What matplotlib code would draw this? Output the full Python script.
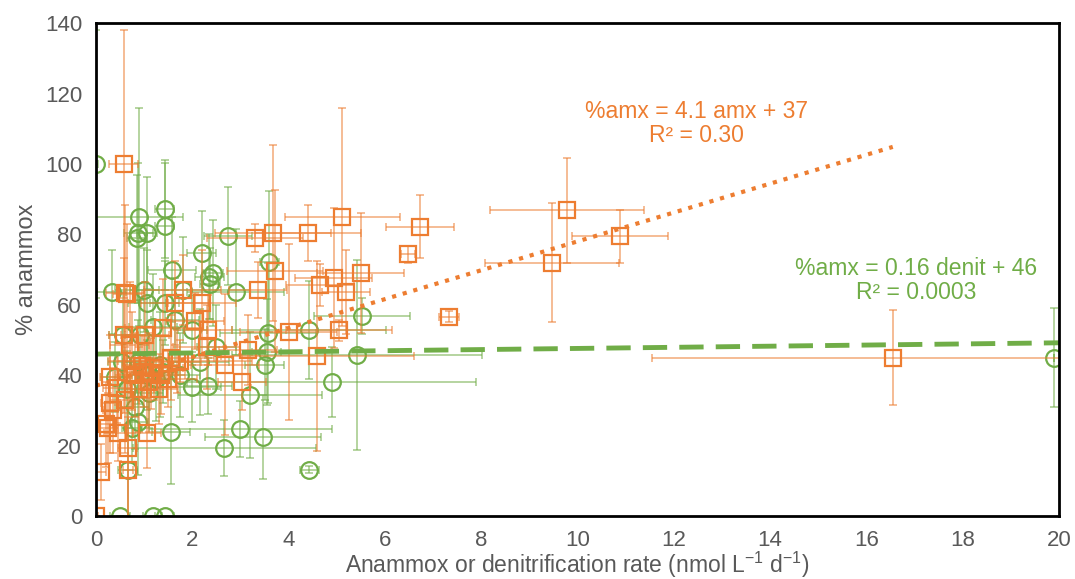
# Percent anammox vs. anammox / denitrification rate, with linear trends

import numpy as np
import matplotlib.pyplot as plt

plt.rcParams['font.family'] = ['Liberation Sans', 'DejaVu Sans']

#---------------------------------------------------------------------
# Anammox rate series (squares)
amx_x = [0.58, 0.0, 0.10, 0.66, 0.60, 0.65, 6.73, 6.48, 7.33, 9.47,
         9.78, 10.88, 16.55, 5.12, 4.40, 3.68, 3.30, 3.72, 4.94, 5.50,
         4.65, 5.20, 3.36, 4.00, 5.05, 4.60, 3.16, 2.30, 2.68, 3.03,
         2.06, 2.32, 1.40, 1.64, 2.20, 1.80, 0.58, 1.02, 0.70, 1.68,
         0.29, 0.44, 0.25, 0.35, 0.46, 0.66, 1.06, 0.80, 1.00, 1.10,
         1.20, 1.35, 1.50, 0.90, 0.60, 1.30, 0.75, 1.55, 0.30, 0.20,
         1.75, 0.95, 1.15]
amx_y = [100.0, 0.0, 12.5, 13.0, 63.4, 63.0, 82.2, 74.3, 56.6, 72.0,
         86.8, 79.5, 45.0, 85.0, 80.4, 80.4, 79.0, 69.6, 67.6, 69.0,
         65.6, 63.6, 64.2, 52.3, 52.8, 45.5, 47.2, 48.0, 43.0, 38.0,
         55.4, 52.8, 53.4, 60.5, 60.5, 64.2, 51.4, 51.4, 48.6, 43.8,
         39.5, 36.4, 25.0, 30.0, 23.6, 19.3, 23.6, 40.0, 41.0, 38.0,
         42.0, 40.0, 39.0, 36.0, 33.0, 36.0, 44.0, 45.0, 32.0, 26.0,
         44.0, 42.5, 40.5]
amx_xerr = [0.30, 0.05, 0.10, 0.10, 0.40, 0.30, 0.70, 0.15, 0.20, 1.40,
            1.60, 1.00, 5.00, 1.20, 1.10, 1.20, 1.00, 1.00, 0.80, 0.90,
            0.70, 0.50, 0.60, 1.00, 1.10, 2.00, 0.60, 0.70, 0.70, 0.50,
            0.60, 0.50, 0.80, 0.70, 0.70, 0.80, 0.30, 0.50, 0.40, 0.50,
            0.20, 0.30, 0.20, 0.20, 0.30, 0.20, 0.30, 0.40, 0.50, 0.40,
            0.60, 0.50, 0.60, 0.30, 0.30, 0.40, 0.30, 0.90, 0.20, 0.15,
            1.50, 0.40, 0.50]
amx_yerr = [38.0, 0.0, 8.0, 15.0, 25.0, 20.0, 9.0, 2.5, 1.5, 17.0,
            15.0, 7.5, 13.5, 31.0, 8.0, 25.0, 4.0, 23.0, 20.0, 17.0,
            6.0, 12.0, 8.0, 25.0, 3.0, 27.0, 10.0, 12.0, 20.0, 8.0,
            8.0, 10.0, 14.0, 12.0, 15.0, 10.0, 22.0, 15.0, 18.0, 9.0,
            12.0, 10.0, 10.0, 12.0, 8.0, 20.0, 10.0, 12.0, 10.0, 14.0,
            9.0, 11.0, 8.0, 12.0, 15.0, 10.0, 14.0, 12.0, 14.0, 12.0,
            6.0, 9.0, 10.0]

# Denitrification rate series (circles)
den_x = [0.0, 0.90, 1.43, 1.43, 0.88, 1.06, 0.85, 2.74, 2.20, 3.60,
         1.58, 2.43, 2.35, 2.37, 0.33, 1.00, 1.06, 1.43, 1.80, 2.90,
         5.52, 4.43, 3.57, 1.18, 1.64, 2.00, 0.56, 0.91, 2.50, 5.42,
         3.55, 3.50, 4.90, 3.20, 0.54, 0.87, 1.33, 2.16, 1.75, 2.00,
         2.33, 0.40, 0.80, 0.87, 0.75, 1.56, 3.00, 2.66, 3.47, 4.43,
         0.66, 0.50, 1.18, 1.43, 19.90, 1.05, 1.25, 1.40, 0.65, 1.10]
den_y = [100.0, 85.0, 87.2, 82.3, 80.4, 80.4, 79.0, 79.5, 74.7, 72.2,
         70.0, 69.0, 68.0, 66.0, 63.6, 64.2, 60.5, 60.5, 64.2, 63.6,
         56.8, 52.8, 52.0, 53.7, 55.7, 52.8, 51.4, 51.4, 48.0, 45.7,
         46.6, 43.0, 38.0, 34.4, 43.8, 43.8, 43.0, 43.8, 40.0, 36.6,
         37.0, 39.5, 31.0, 26.7, 25.0, 24.0, 24.7, 19.3, 22.5, 13.2,
         13.0, 0.0, 0.0, 0.0, 45.0, 40.0, 39.0, 41.0, 36.0, 35.0]
den_xerr = [0.05, 0.90, 0.20, 0.20, 0.30, 0.20, 0.20, 0.50, 0.30, 0.20,
            0.50, 0.20, 0.30, 0.20, 0.30, 0.30, 0.40, 0.30, 1.40, 1.00,
            1.00, 1.60, 1.00, 0.50, 0.50, 0.30, 0.30, 0.30, 0.40, 2.60,
            0.30, 0.40, 3.00, 1.50, 0.30, 0.30, 0.40, 0.60, 0.40, 0.60,
            0.50, 0.30, 0.30, 0.20, 0.20, 0.40, 1.90, 1.90, 1.20, 0.20,
            0.20, 0.20, 0.20, 0.20, 0.00, 0.30, 0.40, 0.30, 0.20, 0.30]
den_yerr = [38.0, 31.0, 14.0, 18.0, 20.0, 16.0, 18.0, 14.0, 12.0, 20.0,
            15.0, 15.0, 12.0, 10.0, 12.0, 12.0, 15.0, 12.0, 15.0, 18.0,
            5.0, 14.0, 20.0, 15.0, 12.0, 10.0, 12.0, 10.0, 12.0, 27.0,
            15.0, 10.0, 10.0, 18.0, 10.0, 12.0, 15.0, 15.0, 12.0, 10.0,
            8.0, 10.0, 12.0, 15.0, 10.0, 15.0, 8.0, 8.0, 12.0, 1.0,
            18.0, 0.0, 0.0, 0.0, 14.0, 10.0, 12.0, 9.0, 11.0, 10.0]

# Trendline fits
amx_slope, amx_icpt, amx_r2 = 4.1, 37, 0.30
den_slope, den_icpt, den_r2 = 0.16, 46, 0.0003
amx_fit_max = 16.55
den_fit_max = 20.0

c_amx = '#ED7D31'
c_den = '#70AD47'

#---------------------------------------------------------------------
fig, ax = plt.subplots(figsize=(10.75, 5.79), dpi=100)
fig.subplots_adjust(left=0.0893, right=0.985, bottom=0.1088, top=0.960)

ax.errorbar(den_x, den_y, xerr=den_xerr, yerr=den_yerr, fmt='none',
            ecolor=c_den, alpha=0.6, elinewidth=1.2, capsize=3, capthick=1.2)
ax.plot(den_x, den_y, 'o', ms=12, mfc='none', mec=c_den, mew=1.6)

ax.errorbar(amx_x, amx_y, xerr=amx_xerr, yerr=amx_yerr, fmt='none',
            ecolor=c_amx, alpha=0.6, elinewidth=1.2, capsize=3, capthick=1.2)
ax.plot(amx_x, amx_y, 's', ms=11, mfc='none', mec=c_amx, mew=1.6)

xf = np.array([0, amx_fit_max])
ax.plot(xf, amx_slope*xf + amx_icpt, ':', color=c_amx, lw=3)
xf = np.array([0, den_fit_max])
ax.plot(xf, den_slope*xf + den_icpt, '--', color=c_den, lw=3.5,
        dashes=(5, 2.5))

ax.text(12.48, 111.4, '%%amx = %.1f amx + %d\nR² = %.2f' % (amx_slope, amx_icpt, amx_r2),
        color=c_amx, fontsize=16.5, ha='center', va='center', linespacing=1.05)
ax.text(17.03, 67.0, '%%amx = %.2f denit + %d\nR² = %.4f' % (den_slope, den_icpt, den_r2),
        color=c_den, fontsize=16.5, ha='center', va='center', linespacing=1.05)

ax.set_xlim(0, 20)
ax.set_ylim(0, 140)
ax.set_xticks(range(0, 21, 2))
ax.set_yticks(range(0, 141, 20))
ax.tick_params(length=0, labelsize=16, labelcolor='#595959', pad=10)
for s in ax.spines.values():
    s.set_linewidth(2)
    s.set_color('black')

ax.set_xlabel(r'Anammox or denitrification rate (nmol L$^{\mathregular{-1}}$ d$^{\mathregular{-1}}$)',
              fontsize=16.5, color='#595959', labelpad=-1)
ax.set_ylabel('% anammox', fontsize=17, color='#595959', labelpad=5)

plt.savefig('out.png')
